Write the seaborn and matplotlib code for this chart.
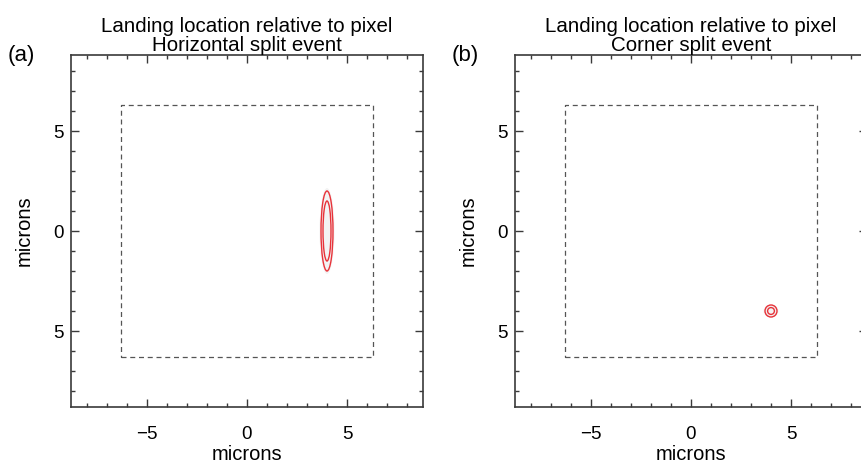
import matplotlib
matplotlib.use("Agg")
import matplotlib.pyplot as plt
from matplotlib.patches import Ellipse
from matplotlib.ticker import MultipleLocator, FixedLocator
import numpy as np
import pandas as pd
import seaborn as sns

# Panel text
panel_tags = ["(a)", "(b)"]
panel_titles = ["Landing location relative to pixel\nHorizontal split event",
                "Landing location relative to pixel\nCorner split event"]

# Landing location estimates (microns) and 1-/2-level contour half-widths
center_x = [4.0, 4.0]
center_y = [0.0, -4.0]
inner_half_x = [0.2, 0.17]
inner_half_y = [1.5, 0.17]
outer_half_x = [0.3, 0.3]
outer_half_y = [2.0, 0.3]

# Pixel boundary half-size (microns) and plotted extent
pixel_half = 6.3
axis_half = 8.8

tick_values = [-5, 0, 5]
x_tick_labels = ["\u22125", "0", "5"]
y_tick_labels = ["5", "0", "5"]

sns.set_style("ticks")
plt.rcParams["font.family"] = ["Liberation Sans", "DejaVu Sans"]
plt.rcParams["text.color"] = "black"
plt.rcParams["axes.labelcolor"] = "black"
plt.rcParams["xtick.labelcolor"] = "black"
plt.rcParams["ytick.labelcolor"] = "black"

fig = plt.figure(figsize=(8.62, 4.65), dpi=100)
ax_w, ax_h = 352 / 862, 352 / 465
lefts = [71 / 862, 515 / 862]
bottom = 1 - 407 / 465

spine_col = "#3a3a3a"
for i in range(2):
    ax = fig.add_axes([lefts[i], bottom, ax_w, ax_h])
    # pixel boundary as a closed dashed outline
    box = pd.DataFrame({
        "x": [-pixel_half, pixel_half, pixel_half, -pixel_half, -pixel_half],
        "y": [-pixel_half, -pixel_half, pixel_half, pixel_half, -pixel_half],
    })
    sns.lineplot(data=box, x="x", y="y", sort=False, estimator=None, ax=ax,
                 color="#555555", linewidth=0.9, linestyle=(0, (4, 3)))

    # faint density halo and contour levels
    ax.add_patch(Ellipse((center_x[i], center_y[i]), 2.5 * outer_half_x[i], 2.15 * outer_half_y[i],
                         facecolor="#f3f3f3", edgecolor="none", zorder=1))
    for hx, hy in [(outer_half_x[i], outer_half_y[i]), (inner_half_x[i], inner_half_y[i])]:
        ax.add_patch(Ellipse((center_x[i], center_y[i]), 2 * hx, 2 * hy,
                             facecolor="none", edgecolor="#e8333a", linewidth=1.0, zorder=3))

    ax.set_xlim(-axis_half, axis_half)
    ax.set_ylim(-axis_half, axis_half)
    ax.set_aspect("auto")
    ax.xaxis.set_major_locator(FixedLocator(tick_values))
    ax.yaxis.set_major_locator(FixedLocator(tick_values))
    ax.xaxis.set_minor_locator(MultipleLocator(1))
    ax.yaxis.set_minor_locator(MultipleLocator(1))
    ax.set_xticklabels(x_tick_labels)
    ax.set_yticklabels(y_tick_labels)
    ax.tick_params(which="both", direction="in", top=True, right=True,
                   color=spine_col, width=1.0)
    ax.tick_params(which="major", length=5.5, labelsize=13.5)
    ax.tick_params(axis="x", which="major", pad=14)
    ax.tick_params(axis="y", which="major", pad=5)
    ax.tick_params(which="minor", length=3)
    for s in ax.spines.values():
        s.set_visible(True)
        s.set_color(spine_col)
        s.set_linewidth(1.2)
    ax.set_xlabel("microns", fontsize=14.5, labelpad=1)
    ax.set_ylabel("microns", fontsize=14.5, labelpad=14)
    ax.set_title(panel_titles[i], fontsize=14.8, linespacing=1.0, pad=3)
    fig.text(lefts[i] - 63 / 862, 1 - 55 / 465, panel_tags[i], fontsize=16,
             ha="left", va="center")

fig.savefig("out.png", dpi=100)
